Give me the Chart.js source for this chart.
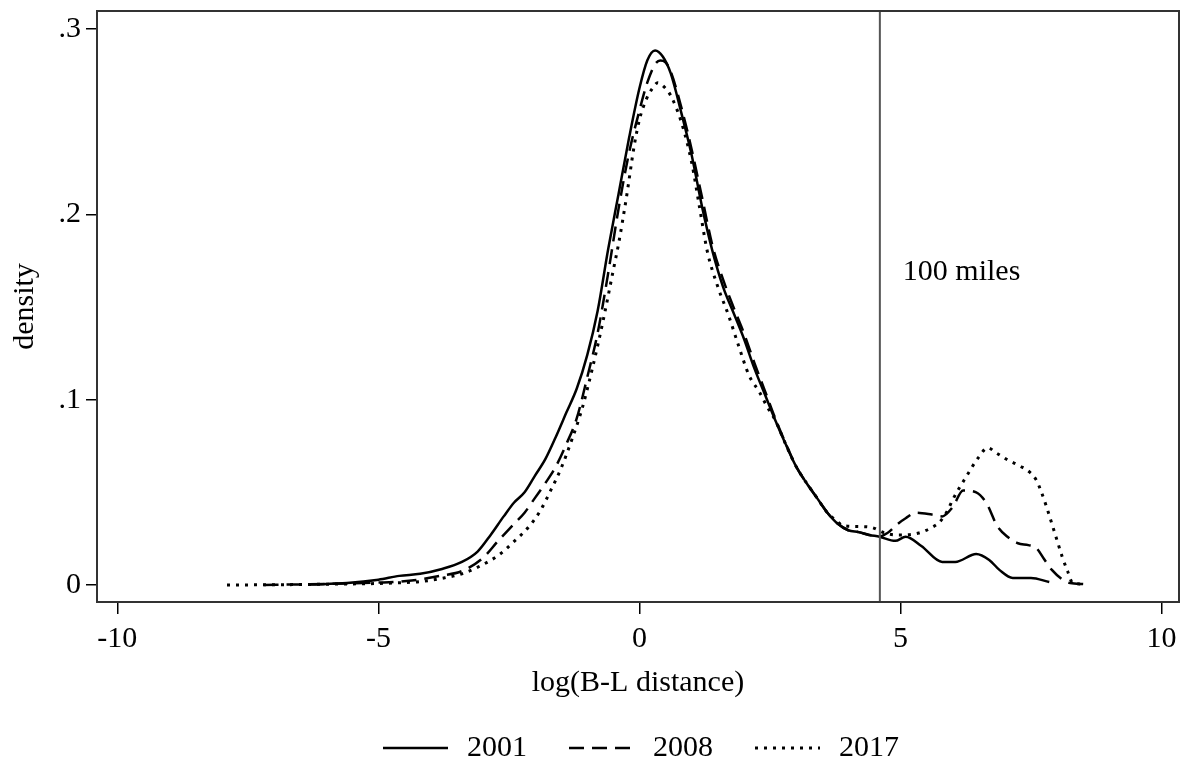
<!DOCTYPE html>
<html lang="en">
<head>
  <meta charset="UTF-8">
  <title>Density of log(B-L distance)</title>
  <script src="https://cdn.jsdelivr.net/npm/chart.js"></script>
  <style>
    html, body { margin: 0; padding: 0; background: #fff; }
    #wrap { width: 1184px; height: 763px; }
  </style>
</head>
<body>
  <div id="wrap"><canvas id="densityChart" width="1184" height="763"></canvas></div>

  <script>
    // Kernel density estimates
    const x2001 = [-6.3, -5.6, -5.0, -4.6, -4.2, -3.8, -3.4, -3.1, -2.85, -2.6, -2.4, -2.2, -2.0, -1.8, -1.6, -1.4, -1.2, -1.0, -0.8, -0.6, -0.4, -0.2, 0.0, 0.15, 0.3, 0.45, 0.6, 0.8, 1.0, 1.2, 1.4, 1.6, 1.8, 2.0, 2.2, 2.4, 2.6, 2.8, 3.0, 3.2, 3.4, 3.6, 3.8, 4.0, 4.2, 4.4, 4.6, 4.9, 5.1, 5.4, 5.8, 6.05, 6.45, 6.7, 6.9, 7.15, 7.5, 7.85];
    const y2001 = [0.0002, 0.001, 0.0028, 0.0049, 0.006, 0.0085, 0.0124, 0.018, 0.027, 0.037, 0.0445, 0.050, 0.059, 0.068, 0.080, 0.093, 0.106, 0.124, 0.148, 0.181, 0.211, 0.241, 0.268, 0.283, 0.2884, 0.285, 0.276, 0.255, 0.232, 0.204, 0.180, 0.161, 0.147, 0.133, 0.117, 0.103, 0.089, 0.076, 0.064, 0.055, 0.047, 0.039, 0.033, 0.0295, 0.0285, 0.027, 0.026, 0.0238, 0.026, 0.021, 0.0124, 0.0124, 0.0167, 0.0135, 0.008, 0.0038, 0.0038, 0.0016];

    const x2008 = [-7.2, -6.5, -5.6, -5.0, -4.6, -4.2, -3.8, -3.4, -3.0, -2.7, -2.4, -2.2, -2.0, -1.8, -1.6, -1.4, -1.2, -1.0, -0.8, -0.6, -0.4, -0.2, 0.0, 0.15, 0.3, 0.4, 0.5, 0.6, 0.8, 1.0, 1.2, 1.4, 1.6, 1.8, 2.0, 2.2, 2.4, 2.6, 2.8, 3.0, 3.2, 3.4, 3.6, 3.8, 4.0, 4.2, 4.4, 4.6, 4.75, 4.95, 5.1, 5.3, 5.6, 5.8, 6.0, 6.2, 6.45, 6.65, 6.85, 7.05, 7.25, 7.45, 7.6, 7.75, 7.9, 8.1, 8.25, 8.5];
    const y2008 = [0.0, 0.0003, 0.0008, 0.0013, 0.0018, 0.003, 0.005, 0.0075, 0.0145, 0.024, 0.033, 0.039, 0.047, 0.055, 0.064, 0.076, 0.090, 0.112, 0.136, 0.168, 0.203, 0.233, 0.256, 0.271, 0.281, 0.283, 0.282, 0.277, 0.258, 0.235, 0.209, 0.183, 0.165, 0.150, 0.136, 0.120, 0.105, 0.090, 0.0765, 0.064, 0.055, 0.047, 0.039, 0.033, 0.0295, 0.0285, 0.027, 0.0262, 0.028, 0.033, 0.036, 0.039, 0.038, 0.037, 0.042, 0.051, 0.050, 0.044, 0.032, 0.026, 0.0225, 0.0215, 0.020, 0.014, 0.0081, 0.003, 0.001, 0.0005];

    const x2017 = [-7.9, -7.0, -6.0, -5.0, -4.6, -4.2, -3.8, -3.4, -3.0, -2.7, -2.4, -2.1, -1.9, -1.7, -1.5, -1.3, -1.1, -0.9, -0.7, -0.5, -0.4, -0.25, -0.1, 0.0, 0.13, 0.25, 0.35, 0.5, 0.6, 0.8, 1.0, 1.15, 1.3, 1.5, 1.7, 1.9, 2.1, 2.3, 2.45, 2.6, 2.8, 3.0, 3.2, 3.4, 3.6, 3.8, 3.9, 4.2, 4.45, 4.7, 4.95, 5.35, 5.6, 5.75, 5.9, 6.0, 6.25, 6.5, 6.67, 6.85, 7.05, 7.3, 7.47, 7.6, 7.7, 7.8, 7.9, 8.0, 8.1, 8.2, 8.3, 8.5];
    const y2017 = [0.0, 0.0001, 0.0004, 0.0008, 0.0012, 0.0018, 0.0035, 0.006, 0.011, 0.016, 0.0235, 0.032, 0.040, 0.051, 0.063, 0.078, 0.095, 0.117, 0.142, 0.170, 0.184, 0.209, 0.237, 0.251, 0.262, 0.268, 0.271, 0.268, 0.264, 0.250, 0.228, 0.204, 0.180, 0.161, 0.146, 0.129, 0.113, 0.104, 0.096, 0.089, 0.076, 0.064, 0.055, 0.047, 0.039, 0.034, 0.032, 0.0315, 0.031, 0.028, 0.027, 0.028, 0.031, 0.034, 0.040, 0.046, 0.058, 0.069, 0.074, 0.071, 0.0675, 0.064, 0.061, 0.0567, 0.050, 0.042, 0.033, 0.024, 0.015, 0.0075, 0.001, 0.0005];

    const xTicks = [-10, -5, 0, 5, 10];
    const yTicks = [0, 0.1, 0.2, 0.3];
    const yTickLabels = ['0', '.1', '.2', '.3'];

    // 100 miles cut-off, on the log scale
    const cutoff = Math.log(100);
    const cutoffLabel = '100 miles';
    const cutoffLabelY = 0.169;

    const xMin = -10.39, xMax = 10.335;
    const yMin = -0.0092, yMax = 0.3097;

    const FONT = "'Liberation Serif', 'Times New Roman', serif";
    Chart.defaults.font.family = FONT;
    Chart.defaults.font.size = 30;
    Chart.defaults.color = '#000';

    function toPoints(xs, ys) {
      return xs.map((x, i) => ({ x: x, y: ys[i] }));
    }

    function curve(label, xs, ys, dash, width) {
      return {
        label: label,
        data: toPoints(xs, ys),
        borderColor: '#000',
        borderWidth: width,
        borderDash: dash,
        pointRadius: 0,
        cubicInterpolationMode: 'monotone',
        fill: false,
        inLegend: true
      };
    }

    // frame round the plot region + "100 miles" note
    const framePlugin = {
      id: 'frame',
      afterDatasetsDraw(chart) {
        const { ctx, chartArea: a, scales } = chart;
        ctx.save();
        ctx.strokeStyle = '#333';
        ctx.lineWidth = 2;
        ctx.strokeRect(a.left, a.top, a.right - a.left, a.bottom - a.top);
        ctx.fillStyle = '#000';
        ctx.font = '30px ' + FONT;
        ctx.textAlign = 'left';
        ctx.textBaseline = 'middle';
        ctx.fillText(cutoffLabel, scales.x.getPixelForValue(cutoff) + 23, scales.y.getPixelForValue(cutoffLabelY));
        ctx.restore();
      }
    };

    // Stata-style legend row under the axis title
    const legendPlugin = {
      id: 'bottomLegend',
      afterDraw(chart) {
        const ctx = chart.ctx;
        const a = chart.chartArea;
        const items = chart.data.datasets.filter(d => d.inLegend);
        const sampleW = 65, gap = 19, spacing = 42, yMid = 748;
        ctx.save();
        ctx.font = '30px ' + FONT;
        const widths = items.map(d => sampleW + gap + ctx.measureText(d.label).width);
        const total = widths.reduce((s, w) => s + w, 0) + spacing * (items.length - 1);
        let x = (a.left + a.right) / 2 - total / 2 + 3;
        items.forEach((d, i) => {
          ctx.strokeStyle = d.borderColor;
          ctx.lineWidth = d.borderWidth;
          ctx.setLineDash(d.borderDash || []);
          ctx.beginPath();
          ctx.moveTo(x, yMid);
          ctx.lineTo(x + sampleW, yMid);
          ctx.stroke();
          ctx.setLineDash([]);
          ctx.fillStyle = '#000';
          ctx.textAlign = 'left';
          ctx.textBaseline = 'middle';
          ctx.fillText(d.label, x + sampleW + gap, yMid);
          x += widths[i] + spacing;
        });
        ctx.restore();
      }
    };

    const ctx = document.getElementById('densityChart').getContext('2d');
    new Chart(ctx, {
      type: 'line',
      data: {
        datasets: [
          {
            label: 'cutoff',
            data: [{ x: cutoff, y: yMin }, { x: cutoff, y: yMax }],
            borderColor: '#555',
            borderWidth: 2,
            pointRadius: 0,
            tension: 0,
            fill: false
          },
          curve('2001', x2001, y2001, [], 2.5),
          curve('2008', x2008, y2008, [15, 8], 2.5),
          curve('2017', x2017, y2017, [3, 6], 3)
        ]
      },
      options: {
        responsive: false,
        devicePixelRatio: 1,
        animation: false,
        layout: { padding: { top: 11, right: 5, left: 0, bottom: 0 } },
        plugins: {
          legend: { display: false },
          tooltip: { enabled: false }
        },
        scales: {
          x: {
            type: 'linear',
            min: xMin,
            max: xMax,
            afterBuildTicks: s => { s.ticks = xTicks.map(v => ({ value: v })); },
            afterFit: s => { s.height = 161; s.paddingLeft = 0; s.paddingRight = 0; },
            ticks: { autoSkip: false, maxRotation: 0, padding: 7, callback: v => String(v) },
            grid: { drawOnChartArea: false, drawTicks: true, tickLength: 12, color: '#000', lineWidth: 1.5 },
            border: { display: false },
            title: { display: true, text: 'log(B-L distance)', padding: { top: 0, bottom: 62 } }
          },
          y: {
            type: 'linear',
            min: yMin,
            max: yMax,
            afterBuildTicks: s => { s.ticks = yTicks.map(v => ({ value: v })); },
            afterFit: s => { s.width = 97; s.paddingTop = 0; s.paddingBottom = 0; },
            ticks: { autoSkip: false, padding: 5, callback: (v, i) => yTickLabels[i] },
            grid: { drawOnChartArea: false, drawTicks: true, tickLength: 11, color: '#000', lineWidth: 1.5 },
            border: { display: false },
            title: { display: true, text: 'density', padding: { top: 7, bottom: 0 } }
          }
        }
      },
      plugins: [framePlugin, legendPlugin]
    });
  </script>
</body>
</html>
